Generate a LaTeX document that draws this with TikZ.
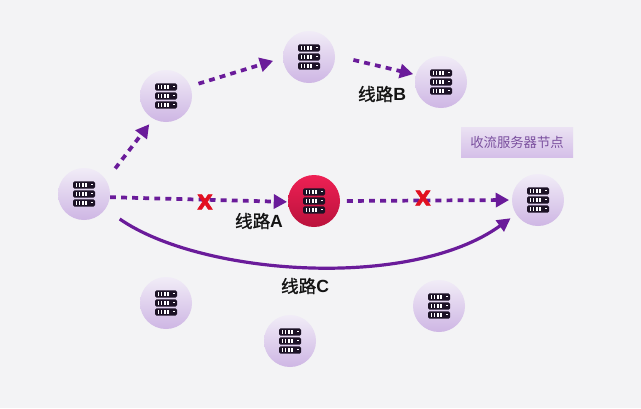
\documentclass[tikz,border=0pt]{standalone}
\usepackage{fontspec}
\setmainfont{Liberation Sans}
\newfontfamily\cjk{Noto Sans CJK SC}
\newfontfamily\cjkb[FakeBold=1.2]{Noto Sans CJK SC}
\newfontfamily\crossfont[UprightFont=*,UprightFeatures={RawFeature={embolden=3}},BoldFont=*,BoldFeatures={RawFeature={embolden=3}}]{DejaVu Sans Bold}
\usetikzlibrary{arrows.meta}
\definecolor{bgc}{HTML}{F3F3F5}
\definecolor{route}{HTML}{6A1B9A}
\definecolor{icon}{HTML}{1C1226}
\definecolor{labelc}{HTML}{7A4F9E}
\tikzset{
 x=0.75pt,y=-0.75pt,
 purplenode/.style={circle,draw=none,minimum size=39pt,inner sep=0pt,
   top color={rgb,255:red,241;green,236;blue,247},bottom color={rgb,255:red,206;green,182;blue,228}},
 rednode/.style={circle,draw=none,minimum size=39pt,inner sep=0pt,
   top color={rgb,255:red,238;green,32;blue,84},bottom color={rgb,255:red,186;green,18;blue,60}},
 dashroute/.style={draw=route,line width=2.8pt,dash pattern=on 4.4pt off 3.9pt,
   -{Triangle[length=10pt,width=10.5pt,fill=route]}},
 solidroute/.style={draw=route,line width=2.4pt,-{Triangle[length=10pt,width=10pt,fill=route]}},
 routelabel/.style={font=\fontsize{13.2pt}{15pt}\selectfont,text=black!92,inner sep=0pt},
 cross/.style={font=\crossfont\fontsize{15pt}{16pt}\selectfont,text={rgb,255:red,226;green,16;blue,32},inner sep=0pt},
 tagbox/.style={minimum width=84pt,minimum height=23pt,inner sep=0pt,
   top color={rgb,255:red,235;green,226;blue,243},bottom color={rgb,255:red,212;green,190;blue,232},
   text=labelc,font=\cjk\fontsize{10pt}{12pt}\selectfont},
 server/.pic={
  \foreach \yy in {-9,0,9}{
   \fill[icon,rounded corners=1.1pt] (-11,\yy-3.7) rectangle (11,\yy+3.7);
   \foreach \xx in {-8.5,-5.2,-1.9,1.4}{\fill[white] (\xx,\yy-1.6) rectangle (\xx+1.5,\yy+1.6);}
   \fill[white] (6.5,\yy-1.4) rectangle (8.5,\yy+0.4);
  }
 }
}
\begin{document}
\begin{tikzpicture}
\useasboundingbox (0,0) rectangle (641,408);
\fill[bgc] (0,0) rectangle (641,408);

\node[purplenode] (n1) at (84,194) {};
\node[purplenode] (n2) at (166,96) {};
\node[purplenode] (n3) at (309,57) {};
\node[purplenode] (n4) at (441,82) {};
\node[rednode]    (nr) at (314,201) {};
\node[purplenode] (n6) at (538,200) {};
\node[purplenode] (n7) at (166,303) {};
\node[purplenode] (n8) at (290,341) {};
\node[purplenode] (n9) at (439,306) {};
\foreach \n in {n1,n2,n3,n4,nr,n6,n7,n8,n9}{\pic at (\n) {server};}

\draw[dashroute,shorten <=11pt,shorten >=5pt] (n1.32) -- (n2.241);
\draw[dashroute,shorten <=6.4pt,shorten >=7.5pt] (n2.22) -- (n3.182);
\draw[dashroute,shorten <=14pt,shorten >=2pt] (n3.3) -- (n4.164);
\draw[dashroute,shorten >=0.5pt] (n1.-7) -- (nr.182);
\draw[dashroute,shorten <=5pt,shorten >=2pt] (nr.0) -- (n6.180);
\draw[solidroute,shorten <=13pt,shorten >=5pt] (n1.-35) .. controls (200,275) and (410,291) .. (n6.213);

\node[cross] (x1) at (205,202) {X};
\node[cross] (x2) at (423,198) {X};
\node[routelabel] (la) at (259,221) {{\cjkb 线路}\textbf{A}};
\node[routelabel] (lb) at (382,94) {{\cjkb 线路}\textbf{B}};
\node[routelabel] (lc) at (305,286) {{\cjkb 线路}\textbf{C}};
\node[tagbox] (tag) at (517,142.5) {收流服务器节点};
\end{tikzpicture}
\end{document}
